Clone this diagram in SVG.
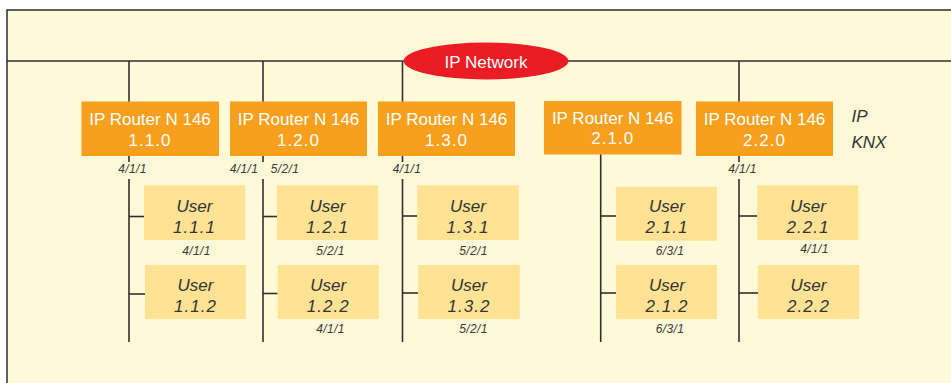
<svg xmlns="http://www.w3.org/2000/svg" width="951" height="383" viewBox="0 0 951 383">
<style>
.ln{stroke:#2f2f2f;stroke-width:1.6;fill:none}
.rt{fill:#F8A01E}
.us{fill:#FFE294}
.rtx{font-family:"Liberation Sans",Arial,sans-serif;font-size:17px;fill:#ffffff;text-anchor:middle}
.utx{font-family:"Liberation Sans",Arial,sans-serif;font-size:17px;font-style:italic;fill:#333333;text-anchor:middle}
.lb{font-family:"Liberation Sans",Arial,sans-serif;font-size:12px;font-style:italic;fill:#3a3a3a;text-anchor:middle;letter-spacing:0.4px}
.side{font-family:"Liberation Sans",Arial,sans-serif;font-size:17px;font-style:italic;fill:#333333}
</style>
<rect x="0" y="0" width="951" height="383" fill="#ffffff"/>
<rect x="7" y="10" width="960" height="390" fill="#FFF9D7" stroke="#3a3a3a" stroke-width="1.6"/>
<g id="connectors">
<line class="ln" x1="7" y1="61" x2="951" y2="61"/>
<line class="ln" x1="129" y1="61" x2="129" y2="102"/>
<line class="ln" x1="263" y1="61" x2="263" y2="102"/>
<line class="ln" x1="402.5" y1="61" x2="402.5" y2="102"/>
<line class="ln" x1="739" y1="61" x2="739" y2="102"/>
<line class="ln" x1="129" y1="156" x2="129" y2="162"/>
<line class="ln" x1="129" y1="179" x2="129" y2="342"/>
<line class="ln" x1="263" y1="156" x2="263" y2="162"/>
<line class="ln" x1="263" y1="179" x2="263" y2="342"/>
<line class="ln" x1="402.5" y1="156" x2="402.5" y2="162"/>
<line class="ln" x1="402.5" y1="179" x2="402.5" y2="342"/>
<line class="ln" x1="600.7" y1="154" x2="600.7" y2="342"/>
<line class="ln" x1="739" y1="156" x2="739" y2="162"/>
<line class="ln" x1="739" y1="179" x2="739" y2="342"/>
<line class="ln" x1="129" y1="216.5" x2="144" y2="216.5"/>
<line class="ln" x1="129" y1="294" x2="145" y2="294"/>
<line class="ln" x1="263" y1="216.5" x2="277" y2="216.5"/>
<line class="ln" x1="263" y1="293.5" x2="277.7" y2="293.5"/>
<line class="ln" x1="402.5" y1="216" x2="417.3" y2="216"/>
<line class="ln" x1="402.5" y1="293" x2="418" y2="293"/>
<line class="ln" x1="600.7" y1="216" x2="616" y2="216"/>
<line class="ln" x1="600.7" y1="293" x2="616" y2="293"/>
<line class="ln" x1="739" y1="216" x2="757.3" y2="216"/>
<line class="ln" x1="739" y1="293" x2="758" y2="293"/>
</g>
<g id="ipnetwork">
<ellipse cx="486" cy="61" rx="82.5" ry="18.5" fill="#EC1C24"/>
<text x="486" y="67.5" font-family="'Liberation Sans',Arial,sans-serif" font-size="17" fill="#ffffff" text-anchor="middle">IP Network</text>
</g>
<g id="router-110">
<rect class="rt" x="81.5" y="101.5" width="137.5" height="54.5"/>
<text class="rtx" x="150" y="125">IP Router N 146</text>
<text class="rtx" x="150" y="146" letter-spacing="1">1.1.0</text>
</g>
<g id="router-120">
<rect class="rt" x="230" y="101.5" width="137" height="54.5"/>
<text class="rtx" x="298.5" y="125">IP Router N 146</text>
<text class="rtx" x="298.5" y="146" letter-spacing="1">1.2.0</text>
</g>
<g id="router-130">
<rect class="rt" x="378" y="101.5" width="137" height="54.5"/>
<text class="rtx" x="446.5" y="125">IP Router N 146</text>
<text class="rtx" x="446.5" y="146" letter-spacing="1">1.3.0</text>
</g>
<g id="router-210">
<rect class="rt" x="544" y="101" width="137.5" height="53.5"/>
<text class="rtx" x="612.7" y="123.5">IP Router N 146</text>
<text class="rtx" x="612.7" y="144" letter-spacing="1">2.1.0</text>
</g>
<g id="router-220">
<rect class="rt" x="696" y="101.5" width="137" height="54.5"/>
<text class="rtx" x="764.5" y="125">IP Router N 146</text>
<text class="rtx" x="764.5" y="146" letter-spacing="1">2.2.0</text>
</g>
<g id="layer-labels">
<text class="side" x="851.5" y="122">IP</text>
<text class="side" x="851.5" y="148">KNX</text>
</g>
<g id="router-addresses">
<text class="lb" x="132.5" y="173">4/1/1</text>
<text class="lb" x="244" y="173">4/1/1</text>
<text class="lb" x="285" y="173">5/2/1</text>
<text class="lb" x="407" y="173">4/1/1</text>
<text class="lb" x="742.5" y="173">4/1/1</text>
</g>
<g id="user-111">
<rect class="us" x="144" y="185.3" width="101.3" height="54.7"/>
<text class="utx" x="194.5" y="211.7">User</text>
<text class="utx" x="194.5" y="232.7" letter-spacing="1">1.1.1</text>
<text class="lb" x="196.5" y="255">4/1/1</text>
</g>
<g id="user-112">
<rect class="us" x="145" y="265" width="101" height="54"/>
<text class="utx" x="195.5" y="291">User</text>
<text class="utx" x="195.5" y="312" letter-spacing="1">1.1.2</text>
</g>
<g id="user-121">
<rect class="us" x="277" y="185.3" width="101" height="54.7"/>
<text class="utx" x="327.5" y="211.7">User</text>
<text class="utx" x="327.5" y="232.7" letter-spacing="1">1.2.1</text>
<text class="lb" x="330.5" y="255">5/2/1</text>
</g>
<g id="user-122">
<rect class="us" x="277.7" y="265" width="101" height="54"/>
<text class="utx" x="328.2" y="291">User</text>
<text class="utx" x="328.2" y="312" letter-spacing="1">1.2.2</text>
<text class="lb" x="330.5" y="332.7">4/1/1</text>
</g>
<g id="user-131">
<rect class="us" x="417.3" y="185.3" width="101.4" height="54.7"/>
<text class="utx" x="468" y="211.7">User</text>
<text class="utx" x="468" y="232.7" letter-spacing="1">1.3.1</text>
<text class="lb" x="473.5" y="255">5/2/1</text>
</g>
<g id="user-132">
<rect class="us" x="418" y="265" width="101.7" height="54"/>
<text class="utx" x="469" y="291">User</text>
<text class="utx" x="469" y="312" letter-spacing="1">1.3.2</text>
<text class="lb" x="473.5" y="332.7">5/2/1</text>
</g>
<g id="user-211">
<rect class="us" x="616" y="186.7" width="101" height="54"/>
<text class="utx" x="667" y="211.7">User</text>
<text class="utx" x="667" y="232.7" letter-spacing="1">2.1.1</text>
<text class="lb" x="670" y="255">6/3/1</text>
</g>
<g id="user-212">
<rect class="us" x="616" y="265" width="101" height="54"/>
<text class="utx" x="667" y="291">User</text>
<text class="utx" x="667" y="312" letter-spacing="1">2.1.2</text>
<text class="lb" x="670" y="332.7">6/3/1</text>
</g>
<g id="user-221">
<rect class="us" x="757.3" y="185.3" width="101" height="54.7"/>
<text class="utx" x="808" y="211.7">User</text>
<text class="utx" x="808" y="232.7" letter-spacing="1">2.2.1</text>
<text class="lb" x="814.5" y="253.3">4/1/1</text>
</g>
<g id="user-222">
<rect class="us" x="758" y="265" width="101.3" height="54"/>
<text class="utx" x="808.5" y="291">User</text>
<text class="utx" x="808.5" y="312" letter-spacing="1">2.2.2</text>
</g>
</svg>
